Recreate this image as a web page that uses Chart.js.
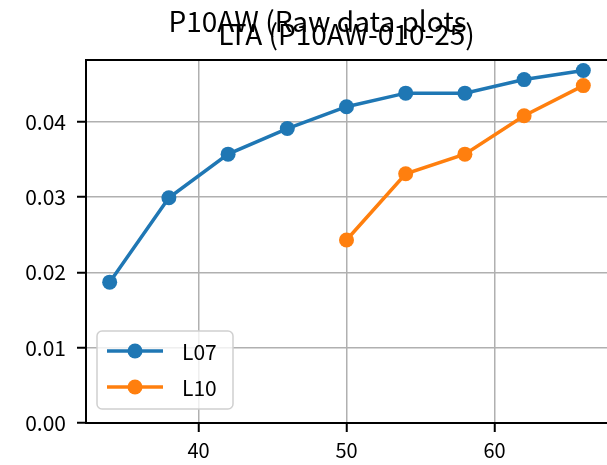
<!DOCTYPE html>
<html>
<head>
<meta charset="utf-8">
<script src="https://cdn.jsdelivr.net/npm/chart.js@4"></script>
<style>
  body { margin: 0; background: #fff; }
  #wrap { width: 607px; height: 465px; }
</style>
</head>
<body>
<div id="wrap"><canvas id="myChart" width="607" height="465"></canvas></div>
<script>
// datos
const xL07 = [34, 38, 42, 46, 50, 54, 58, 62, 66];
const yL07 = [0.0187, 0.0299, 0.0357, 0.0391, 0.0420, 0.0438, 0.0438, 0.0456, 0.0468];
const xL10 = [50, 54, 58, 62, 66];
const yL10 = [0.0243, 0.0331, 0.0357, 0.0408, 0.0448];
const seriesNames = ['L07', 'L10'];
const xTicks = [40, 50, 60];
const yTicks = [0.00, 0.01, 0.02, 0.03, 0.04];
const titleText = 'P10AW (Raw data plots';
const subtitleText = 'LTA (P10AW-010-25)';

const FONT = "'Noto Sans CJK JP', 'Noto Sans', sans-serif";
const colores = ['#1f77b4', '#ff7f0e'];

function toPoints(xs, ys) {
    return xs.map((x, i) => ({ x: x, y: ys[i] }));
}

// titulos superpuestos
const titlePlugin = {
    id: 'titulos',
    afterDraw(chart) {
        const ctx = chart.ctx;
        const area = chart.chartArea;
        ctx.save();
        ctx.fillStyle = '#000';
        ctx.font = '28px ' + FONT;
        ctx.textAlign = 'center';
        ctx.textBaseline = 'alphabetic';
        ctx.fillText(titleText, chart.width / 2 + 14, 32);
        ctx.fillText(subtitleText, (area.left + area.right) / 2, 45);
        ctx.restore();
    }
};

// marco superior y leyenda
const framePlugin = {
    id: 'marco',
    afterDraw(chart) {
        const ctx = chart.ctx;
        const a = chart.chartArea;
        ctx.save();
        ctx.strokeStyle = '#000';
        ctx.lineWidth = 2;
        ctx.beginPath();
        ctx.moveTo(a.left, a.top);
        ctx.lineTo(chart.width, a.top);
        ctx.stroke();

        // leyenda
        const bx = a.left + 11, by = a.bottom - 92, bw = 136, bh = 78;
        ctx.beginPath();
        ctx.roundRect(bx, by, bw, bh, 5);
        ctx.fillStyle = 'rgba(255,255,255,0.8)';
        ctx.fill();
        ctx.strokeStyle = '#d0d0d0';
        ctx.lineWidth = 1.5;
        ctx.stroke();

        chart.data.datasets.forEach((ds, i) => {
            const cy = by + 20 + i * 36;
            ctx.strokeStyle = ds.borderColor;
            ctx.lineWidth = 3.5;
            ctx.beginPath();
            ctx.moveTo(bx + 10, cy);
            ctx.lineTo(bx + 66, cy);
            ctx.stroke();
            ctx.fillStyle = ds.borderColor;
            ctx.beginPath();
            ctx.arc(bx + 38, cy, 7.5, 0, Math.PI * 2);
            ctx.fill();
            ctx.fillStyle = '#000';
            ctx.font = '21px ' + FONT;
            ctx.textAlign = 'left';
            ctx.textBaseline = 'middle';
            ctx.fillText(ds.label, bx + 85, cy + 1);
        });
        ctx.restore();
    }
};

const ctx = document.getElementById('myChart').getContext('2d');

const myChart = new Chart(ctx, {
    type: 'line',
    data: {
        datasets: [
            {
                label: seriesNames[0],
                data: toPoints(xL07, yL07),
                borderColor: colores[0],
                backgroundColor: colores[0],
                borderWidth: 3.5,
                pointRadius: 7.5,
                pointBorderWidth: 0,
                pointBackgroundColor: colores[0],
                tension: 0,
                clip: false,
            },
            {
                label: seriesNames[1],
                data: toPoints(xL10, yL10),
                borderColor: colores[1],
                backgroundColor: colores[1],
                borderWidth: 3.5,
                pointRadius: 7.5,
                pointBorderWidth: 0,
                pointBackgroundColor: colores[1],
                tension: 0,
                clip: false,
            }
        ]
    },
    options: {
        responsive: false,
        animation: false,
        layout: { autoPadding: false, padding: { top: 60, right: 0, left: 0, bottom: 0 } },
        scales: {
            x: {
                type: 'linear',
                min: 32.4,
                max: 67.6,
                afterBuildTicks: (scale) => { scale.ticks = xTicks.map(v => ({ value: v })); },
                afterFit: (scale) => {
                    scale.height = 42;
                    scale.paddingLeft = 0;
                    scale.paddingRight = 0;
                },
                ticks: {
                    color: '#000',
                    font: { family: FONT, size: 20 },
                    padding: 6,
                    maxRotation: 0,
                },
                grid: {
                    color: '#b0b0b0',
                    lineWidth: 1.5,
                    tickLength: 9,
                    tickColor: '#000',
                    tickWidth: 2,
                },
                border: { color: '#000', width: 2 },
            },
            y: {
                min: 0,
                max: 0.0482,
                afterBuildTicks: (scale) => { scale.ticks = yTicks.map(v => ({ value: v })); },
                afterFit: (scale) => {
                    scale.width = 86;
                    scale.paddingTop = 0;
                    scale.paddingBottom = 0;
                },
                ticks: {
                    color: '#000',
                    font: { family: FONT, size: 21 },
                    padding: 11,
                    callback: (v) => v.toFixed(2),
                },
                grid: {
                    color: '#b0b0b0',
                    lineWidth: 1.5,
                    tickLength: 9,
                    tickColor: '#000',
                    tickWidth: 2,
                },
                border: { color: '#000', width: 2 },
            }
        },
        plugins: {
            legend: { display: false },
            title: { display: false },
            tooltip: { enabled: false },
        }
    },
    plugins: [titlePlugin, framePlugin]
});
</script>
</body>
</html>
